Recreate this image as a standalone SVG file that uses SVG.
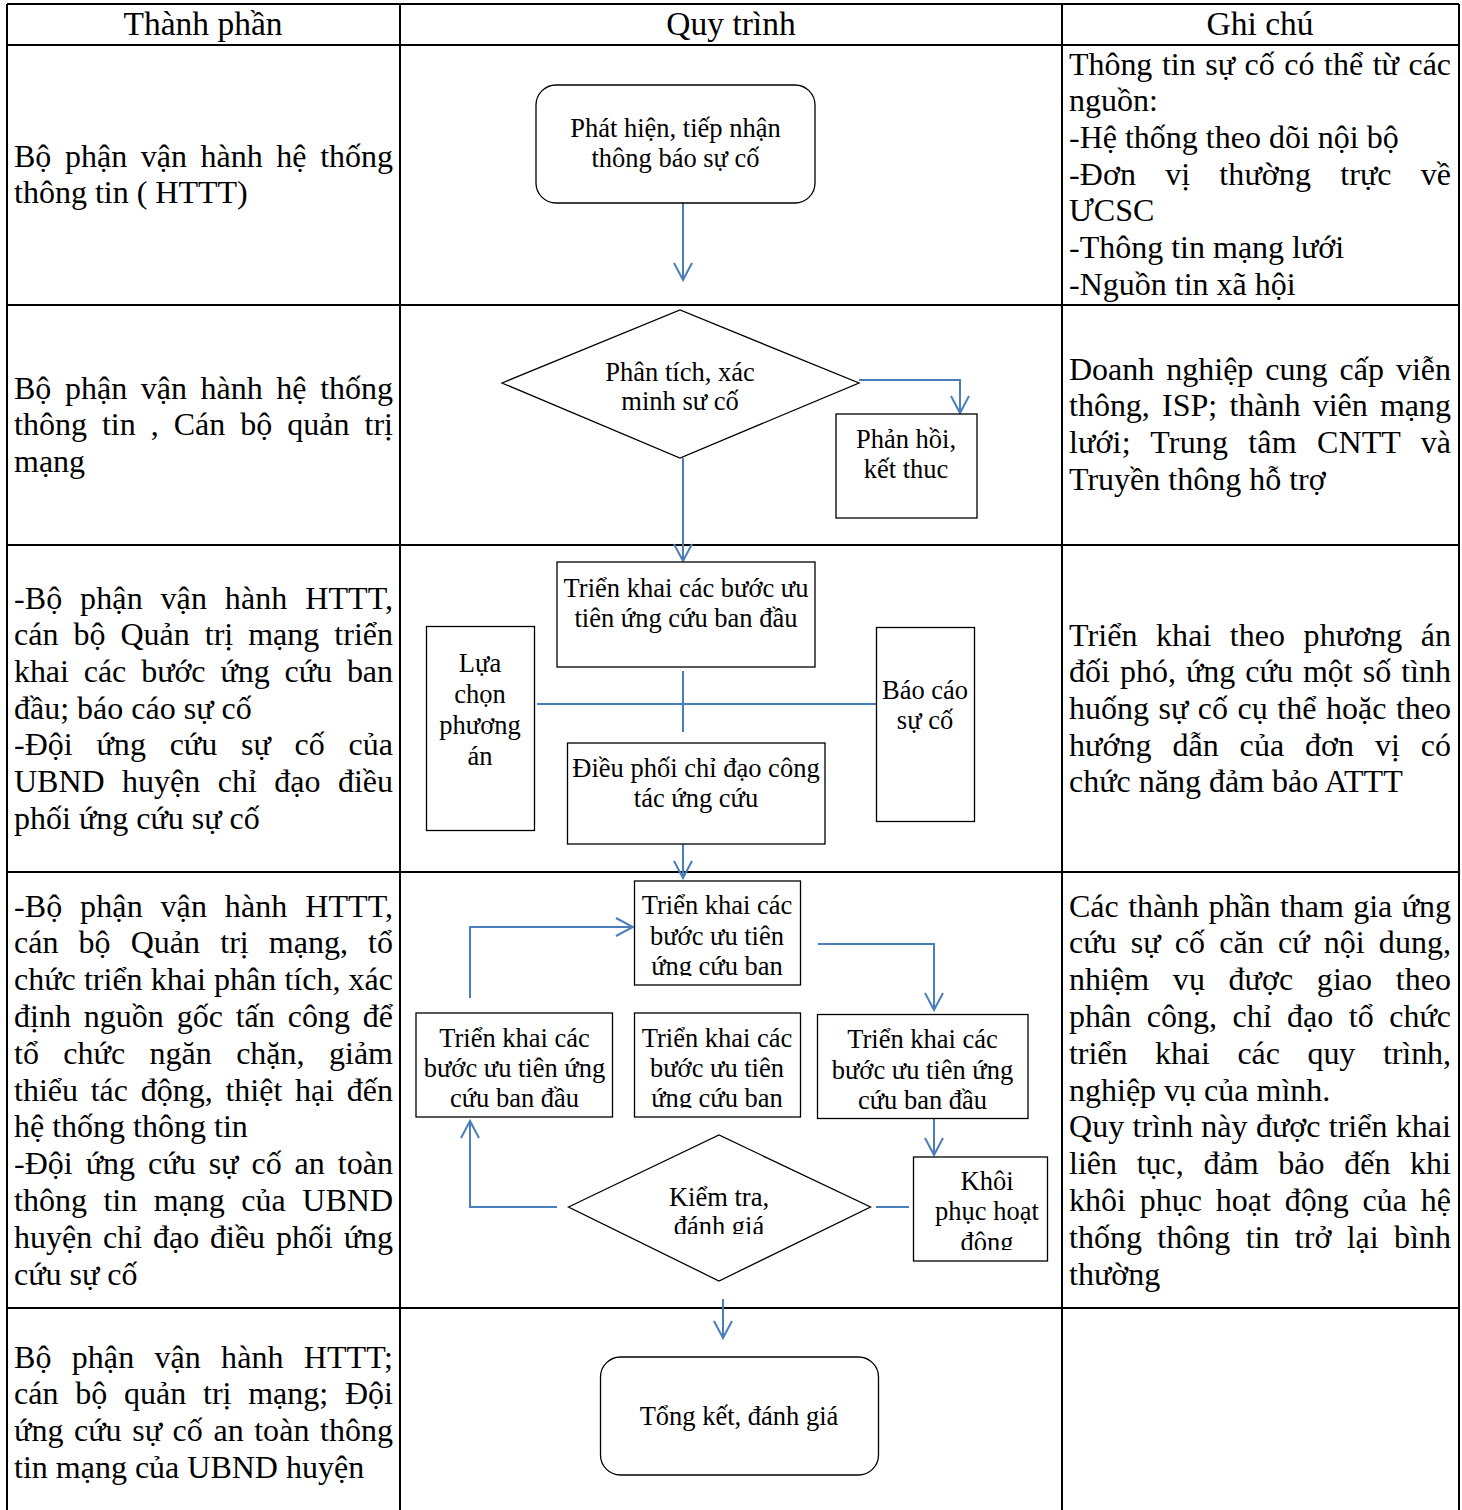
<svg xmlns="http://www.w3.org/2000/svg" width="1462" height="1510" viewBox="0 0 1462 1510">
<style>
.t{font-family:"Liberation Serif","Times New Roman",serif;font-size:32px;fill:#000}
.h{font-family:"Liberation Serif","Times New Roman",serif;font-size:33.5px;fill:#000;text-anchor:middle}
.f{font-family:"Liberation Serif","Times New Roman",serif;font-size:26.5px;fill:#000;text-anchor:middle}
.box{fill:#fff;stroke:#000;stroke-width:1.3}
.conn{fill:none;stroke:#4A7EBB;stroke-width:2}
.grid{stroke:#000;stroke-width:2;fill:none}
</style>
<defs>
<marker id="arr" markerUnits="userSpaceOnUse" orient="auto" viewBox="-20 -12 22 24" refX="0" refY="0" markerWidth="22" markerHeight="24">
<path d="M-17,-9 L0,0 L-17,9" fill="none" stroke="#4A7EBB" stroke-width="2"/>
</marker>
<clipPath id="clipTop"><rect x="634" y="880" width="167" height="96"/></clipPath>
<clipPath id="clipMid"><rect x="634" y="1012" width="167" height="96"/></clipPath>
<clipPath id="clipKhoi"><rect x="913" y="1156" width="135" height="94"/></clipPath>
<clipPath id="clipKT"><rect x="560" y="1130" width="320" height="104"/></clipPath>
</defs>

<g id="table">
<path class="grid" d="M7,4 H1459 M7,45 H1459 M7,305 H1459 M7,545 H1459 M7,872 H1459 M7,1308 H1459 M7,4 V1510 M400,4 V1510 M1062,4 V1510 M1459,4 V1510"/>
<text class="h" x="203" y="35">Thành phần</text>
<text class="h" x="731" y="35">Quy trình</text>
<text class="h" x="1260" y="35">Ghi chú</text>
</g>

<g id="col-thanhphan">
<text class="t" x="14" y="166.5" word-spacing="5.6" textLength="379" lengthAdjust="spacing">Bộ phận vận hành hệ thống</text>
<text class="t" x="14" y="203">thông tin ( HTTT)</text>

<text class="t" x="14" y="398.5" word-spacing="5.6" textLength="379" lengthAdjust="spacing">Bộ phận vận hành hệ thống</text>
<text class="t" x="14" y="435" word-spacing="7" textLength="379" lengthAdjust="spacing">thông tin , Cán bộ quản trị</text>
<text class="t" x="14" y="471.5">mạng</text>

<text class="t" x="14" y="608.5" word-spacing="9.6" textLength="379" lengthAdjust="spacing">-Bộ phận vận hành HTTT,</text>
<text class="t" x="14" y="645.2" word-spacing="7" textLength="379" lengthAdjust="spacing">cán bộ Quản trị mạng triển</text>
<text class="t" x="14" y="681.9" word-spacing="7.1" textLength="379" lengthAdjust="spacing">khai các bước ứng cứu ban</text>
<text class="t" x="14" y="718.6">đầu; báo cáo sự cố</text>
<text class="t" x="14" y="755.3" word-spacing="15.7" textLength="379" lengthAdjust="spacing">-Đội ứng cứu sự cố của</text>
<text class="t" x="14" y="792" word-spacing="9.4" textLength="379" lengthAdjust="spacing">UBND huyện chỉ đạo điều</text>
<text class="t" x="14" y="828.7">phối ứng cứu sự cố</text>

<text class="t" x="14" y="916.5" word-spacing="9.6" textLength="379" lengthAdjust="spacing">-Bộ phận vận hành HTTT,</text>
<text class="t" x="14" y="953.3" word-spacing="12.2" textLength="379" lengthAdjust="spacing">cán bộ Quản trị mạng, tổ</text>
<text class="t" x="14" y="990.1" word-spacing="0.1" textLength="379" lengthAdjust="spacing">chức triển khai phân tích, xác</text>
<text class="t" x="14" y="1026.9" word-spacing="4.9" textLength="379" lengthAdjust="spacing">định nguồn gốc tấn công để</text>
<text class="t" x="14" y="1063.7" word-spacing="16.4" textLength="379" lengthAdjust="spacing">tổ chức ngăn chặn, giảm</text>
<text class="t" x="14" y="1100.5" word-spacing="4.7" textLength="379" lengthAdjust="spacing">thiểu tác động, thiệt hại đến</text>
<text class="t" x="14" y="1137.3">hệ thống thông tin</text>
<text class="t" x="14" y="1174.1" word-spacing="4.9" textLength="379" lengthAdjust="spacing">-Đội ứng cứu sự cố an toàn</text>
<text class="t" x="14" y="1210.9" word-spacing="8.5" textLength="379" lengthAdjust="spacing">thông tin mạng của UBND</text>
<text class="t" x="14" y="1247.7" word-spacing="2.8" textLength="379" lengthAdjust="spacing">huyện chỉ đạo điều phối ứng</text>
<text class="t" x="14" y="1284.5">cứu sự cố</text>

<text class="t" x="14" y="1367.5" word-spacing="12.1" textLength="379" lengthAdjust="spacing">Bộ phận vận hành HTTT;</text>
<text class="t" x="14" y="1404.2" word-spacing="8.8" textLength="379" lengthAdjust="spacing">cán bộ quản trị mạng; Đội</text>
<text class="t" x="14" y="1440.9" word-spacing="2.5" textLength="379" lengthAdjust="spacing">ứng cứu sự cố an toàn thông</text>
<text class="t" x="14" y="1477.6">tin mạng của UBND huyện</text>
</g>

<g id="col-ghichu">
<text class="t" x="1069" y="74.5" word-spacing="1.7" textLength="382" lengthAdjust="spacing">Thông tin sự cố có thể từ các</text>
<text class="t" x="1069" y="111.2">nguồn:</text>
<text class="t" x="1069" y="147.9">-Hệ thống theo dõi nội bộ</text>
<text class="t" x="1069" y="184.6" word-spacing="21" textLength="382" lengthAdjust="spacing">-Đơn vị thường trực về</text>
<text class="t" x="1069" y="221.3">ƯCSC</text>
<text class="t" x="1069" y="258">-Thông tin mạng lưới</text>
<text class="t" x="1069" y="294.7">-Nguồn tin xã hội</text>

<text class="t" x="1069" y="379.5" word-spacing="4" textLength="382" lengthAdjust="spacing">Doanh nghiệp cung cấp viễn</text>
<text class="t" x="1069" y="416.2" word-spacing="4.2" textLength="382" lengthAdjust="spacing">thông, ISP; thành viên mạng</text>
<text class="t" x="1069" y="452.9" word-spacing="12" textLength="382" lengthAdjust="spacing">lưới; Trung tâm CNTT và</text>
<text class="t" x="1069" y="489.6">Truyền thông hỗ trợ</text>

<text class="t" x="1069" y="645.5" word-spacing="10.3" textLength="382" lengthAdjust="spacing">Triển khai theo phương án</text>
<text class="t" x="1069" y="682.2" word-spacing="1.9" textLength="382" lengthAdjust="spacing">đối phó, ứng cứu một số tình</text>
<text class="t" x="1069" y="718.9" word-spacing="1.5" textLength="382" lengthAdjust="spacing">huống sự cố cụ thể hoặc theo</text>
<text class="t" x="1069" y="755.6" word-spacing="12.7" textLength="382" lengthAdjust="spacing">hướng dẫn của đơn vị có</text>
<text class="t" x="1069" y="792.3">chức năng đảm bảo ATTT</text>

<text class="t" x="1069" y="916.5" word-spacing="1.6" textLength="382" lengthAdjust="spacing">Các thành phần tham gia ứng</text>
<text class="t" x="1069" y="953.3" word-spacing="6.1" textLength="382" lengthAdjust="spacing">cứu sự cố căn cứ nội dung,</text>
<text class="t" x="1069" y="990.1" word-spacing="15.6" textLength="382" lengthAdjust="spacing">nhiệm vụ được giao theo</text>
<text class="t" x="1069" y="1026.9" word-spacing="7.5" textLength="382" lengthAdjust="spacing">phân công, chỉ đạo tổ chức</text>
<text class="t" x="1069" y="1063.7" word-spacing="19.7" textLength="382" lengthAdjust="spacing">triển khai các quy trình,</text>
<text class="t" x="1069" y="1100.5">nghiệp vụ của mình.</text>
<text class="t" x="1069" y="1137.3" word-spacing="0.2" textLength="382" lengthAdjust="spacing">Quy trình này được triển khai</text>
<text class="t" x="1069" y="1174.1" word-spacing="11.7" textLength="382" lengthAdjust="spacing">liên tục, đảm bảo đến khi</text>
<text class="t" x="1069" y="1210.9" word-spacing="5.8" textLength="382" lengthAdjust="spacing">khôi phục hoạt động của hệ</text>
<text class="t" x="1069" y="1247.7" word-spacing="7.3" textLength="382" lengthAdjust="spacing">thống thông tin trở lại bình</text>
<text class="t" x="1069" y="1284.5">thường</text>
</g>

<g id="connectors">
<path class="conn" d="M683,203 V280" marker-end="url(#arr)"/>
<path class="conn" d="M859,380 H960 V413" marker-end="url(#arr)"/>
<path class="conn" d="M683,458 V561" marker-end="url(#arr)"/>
<path class="conn" d="M537,704 H879"/>
<path class="conn" d="M683,671 V732"/>
<path class="conn" d="M683,844 V878" marker-end="url(#arr)"/>
<path class="conn" d="M470,998 V927 H633" marker-end="url(#arr)"/>
<path class="conn" d="M818,944 H934 V1010" marker-end="url(#arr)"/>
<path class="conn" d="M934,1118 V1155" marker-end="url(#arr)"/>
<path class="conn" d="M557,1207 H470 V1121" marker-end="url(#arr)"/>
<path class="conn" d="M876,1207 H909"/>
<path class="conn" d="M723,1299 V1338" marker-end="url(#arr)"/>
</g>

<g id="n-phathien">
<rect class="box" x="536" y="85" width="279" height="118" rx="20"/>
<text class="f" x="675.5" y="137">Phát hiện, tiếp nhận</text>
<text class="f" x="675.5" y="167">thông báo sự cố</text>
</g>

<g id="n-phantich">
<polygon class="box" points="502,383 680,310 859,383 680,458"/>
<text class="f" x="680" y="381">Phân tích, xác</text>
<text class="f" x="680" y="410">minh sư cố</text>
</g>

<g id="n-phanhoi">
<rect class="box" x="836" y="414" width="141" height="104"/>
<text class="f" x="906" y="448">Phản hồi,</text>
<text class="f" x="906" y="478">kết thuc</text>
</g>

<g id="n-trienkhai1">
<rect class="box" x="557" y="562" width="258" height="105"/>
<text class="f" x="686" y="597">Triển khai các bước ưu</text>
<text class="f" x="686" y="627">tiên ứng cứu ban đầu</text>
</g>

<g id="n-luachon">
<rect class="box" x="426.5" y="626.5" width="108" height="204"/>
<text class="f" x="480" y="672">Lựa</text>
<text class="f" x="480" y="703">chọn</text>
<text class="f" x="480" y="734">phương</text>
<text class="f" x="480" y="765">án</text>
</g>

<g id="n-baocao">
<rect class="box" x="876.5" y="627.5" width="98" height="194"/>
<text class="f" x="925" y="699">Báo cáo</text>
<text class="f" x="925" y="729">sự cố</text>
</g>

<g id="n-dieuphoi">
<rect class="box" x="567.5" y="743" width="257.5" height="101"/>
<text class="f" x="696" y="777">Điều phối chỉ đạo công</text>
<text class="f" x="696" y="807">tác ứng cứu</text>
</g>

<g id="n-trienkhai-top">
<rect class="box" x="634.5" y="881" width="166" height="104"/>
<g clip-path="url(#clipTop)">
<text class="f" x="717" y="914">Triển khai các</text>
<text class="f" x="717" y="945">bước ưu tiên</text>
<text class="f" x="717" y="975">ứng cứu ban</text>
</g>
</g>

<g id="n-trienkhai-left">
<rect class="box" x="416" y="1013" width="196.5" height="104"/>
<text class="f" x="514.5" y="1047">Triển khai các</text>
<text class="f" x="514.5" y="1077">bước ưu tiên ứng</text>
<text class="f" x="514.5" y="1107">cứu ban đầu</text>
</g>

<g id="n-trienkhai-mid">
<rect class="box" x="634.5" y="1013" width="166" height="104"/>
<g clip-path="url(#clipMid)">
<text class="f" x="717" y="1047">Triển khai các</text>
<text class="f" x="717" y="1077">bước ưu tiên</text>
<text class="f" x="717" y="1107">ứng cứu ban</text>
</g>
</g>

<g id="n-trienkhai-right">
<rect class="box" x="817.5" y="1014.5" width="210.5" height="104"/>
<text class="f" x="922.5" y="1048">Triển khai các</text>
<text class="f" x="922.5" y="1079">bước ưu tiên ứng</text>
<text class="f" x="922.5" y="1109">cứu ban đầu</text>
</g>

<g id="n-khoiphuc">
<rect class="box" x="913.5" y="1157" width="134" height="104"/>
<g clip-path="url(#clipKhoi)">
<text class="f" x="987" y="1190">Khôi</text>
<text class="f" x="987" y="1220">phục hoạt</text>
<text class="f" x="987" y="1251">động</text>
</g>
</g>

<g id="n-kiemtra">
<polygon class="box" points="568.5,1207 719,1135 870.5,1207 719,1281"/>
<g clip-path="url(#clipKT)">
<text class="f" x="719" y="1206">Kiểm tra,</text>
<text class="f" x="719" y="1235">đánh giá</text>
</g>
</g>

<g id="n-tongket">
<rect class="box" x="600.5" y="1357" width="278" height="118" rx="20"/>
<text class="f" x="739" y="1425">Tổng kết, đánh giá</text>
</g>
</svg>
